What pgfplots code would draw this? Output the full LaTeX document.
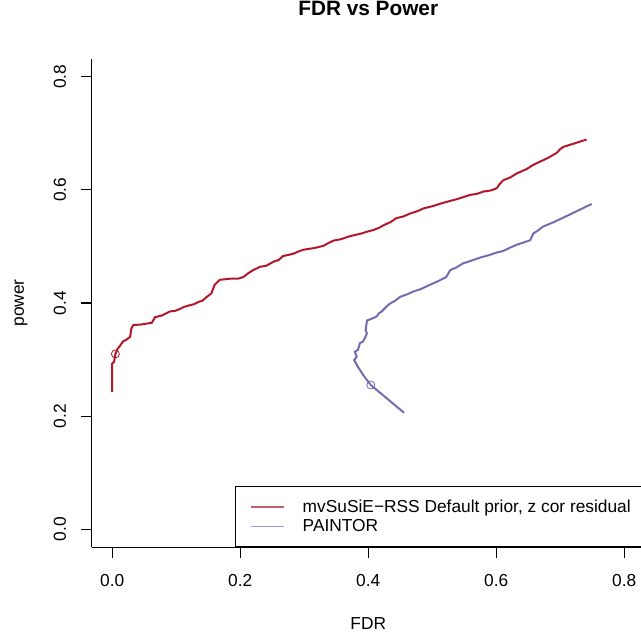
\documentclass[border=0pt]{standalone}
\usepackage{fontspec}
\setmainfont{Liberation Sans}
\usepackage{pgfplots}
\pgfplotsset{compat=1.18}
\definecolor{cred}{HTML}{B2182B}
\definecolor{cpur}{HTML}{756BB1}
\begin{document}
\begin{tikzpicture}
\begin{axis}[
  scale only axis, width=414.8pt, height=366.6pt,
  xmin=-0.032, xmax=0.832, ymin=-0.032, ymax=0.832,
  axis x line=bottom, axis y line=left,
  axis line style={-, line width=0.8pt, black},
  xtick={0,0.2,0.4,0.6,0.8}, ytick={0,0.2,0.4,0.6,0.8},
  xticklabels={0.0,0.2,0.4,0.6,0.8}, yticklabels={0.0,0.2,0.4,0.6,0.8},
  tick align=outside, major tick length=7.95pt,
  tick style={line width=0.8pt, black},
  ticklabel style={font=\fontsize{13}{15}\selectfont},
  xticklabel style={anchor=north, inner sep=0pt, yshift=-12pt},
  yticklabel style={rotate=90, anchor=south, inner sep=0pt, yshift=11pt},
  title={FDR vs Power},
  title style={at={(0.5,1)}, anchor=base, yshift=26.5pt, font=\bfseries\fontsize{15.6}{18}\selectfont},
  xlabel={FDR},
  xlabel style={at={(0.5,0)}, anchor=base, yshift=-61.95pt, font=\fontsize{13}{15}\selectfont},
  ylabel={power},
  ylabel style={at={(0,0.5)}, anchor=base, yshift=50.8pt, font=\fontsize{13}{15}\selectfont},
  legend style={at={(0.2592,0)}, anchor=south west, draw=black, line width=0.75pt,
    inner xsep=11.25pt, inner ysep=7.9pt, row sep=0pt,
    font=\fontsize{13}{15}\selectfont},
  legend cell align=left,
  legend image code/.code={\draw[#1, line width=0.8pt, opacity=0.7] (0pt,0pt) -- (24.75pt,0pt); \path (36pt,0pt);},
]
\coordinate (O) at (rel axis cs:0,0);
\addplot[cred, line width=1.5pt] coordinates {
(0.000,0.243)(0.000,0.293)(0.003,0.296)(0.005,0.310)(0.009,0.320)(0.012,0.324)(0.017,0.332)(0.022,0.335)(0.028,0.340)(0.030,0.355)(0.033,0.361)(0.045,0.362)(0.062,0.365)(0.067,0.375)(0.078,0.378)(0.083,0.381)(0.090,0.385)(0.098,0.386)(0.105,0.389)(0.112,0.393)(0.121,0.396)(0.128,0.398)(0.135,0.402)(0.141,0.404)(0.148,0.411)(0.155,0.417)(0.160,0.432)(0.168,0.441)(0.185,0.443)(0.197,0.443)(0.205,0.446)(0.213,0.453)(0.220,0.458)(0.231,0.464)(0.241,0.466)(0.252,0.473)(0.260,0.476)(0.267,0.483)(0.283,0.487)(0.291,0.491)(0.298,0.494)(0.315,0.497)(0.330,0.501)(0.338,0.506)(0.345,0.510)(0.358,0.513)(0.371,0.518)(0.390,0.523)(0.398,0.526)(0.408,0.529)(0.417,0.533)(0.425,0.538)(0.435,0.543)(0.444,0.550)(0.455,0.553)(0.465,0.558)(0.476,0.562)(0.486,0.567)(0.500,0.571)(0.517,0.577)(0.530,0.581)(0.540,0.584)(0.559,0.591)(0.570,0.593)(0.580,0.597)(0.592,0.599)(0.601,0.603)(0.605,0.610)(0.611,0.617)(0.622,0.622)(0.632,0.629)(0.648,0.637)(0.656,0.643)(0.663,0.647)(0.680,0.656)(0.694,0.665)(0.700,0.672)(0.705,0.676)(0.722,0.682)(0.741,0.689)
};
\addlegendentry{mvSuSiE−RSS Default prior, z cor residual}
\addplot[cpur, line width=1.5pt] coordinates {
(0.456,0.206)(0.404,0.255)(0.392,0.273)(0.384,0.287)(0.378,0.299)(0.382,0.305)(0.379,0.314)(0.384,0.317)(0.387,0.329)(0.392,0.332)(0.398,0.346)(0.396,0.352)(0.398,0.369)(0.405,0.372)(0.413,0.376)(0.417,0.382)(0.421,0.385)(0.428,0.393)(0.434,0.399)(0.442,0.404)(0.450,0.411)(0.460,0.415)(0.470,0.420)(0.483,0.425)(0.496,0.432)(0.510,0.439)(0.522,0.446)(0.528,0.458)(0.538,0.463)(0.548,0.470)(0.564,0.476)(0.577,0.481)(0.590,0.485)(0.600,0.489)(0.611,0.492)(0.622,0.498)(0.632,0.503)(0.643,0.507)(0.653,0.511)(0.658,0.523)(0.665,0.528)(0.673,0.535)(0.690,0.543)(0.705,0.551)(0.727,0.563)(0.749,0.575)
};
\addlegendentry{PAINTOR}
\addplot[cred, only marks, mark=o, mark size=3pt, mark options={line width=0.6pt}, forget plot] coordinates {(0.005,0.310)};
\addplot[cpur, only marks, mark=o, mark size=3pt, mark options={line width=0.6pt}, forget plot] coordinates {(0.404,0.255)};
\end{axis}
\pgfresetboundingbox
\path[use as bounding box] ([xshift=-68.775pt,yshift=-65.7pt]O) rectangle ([xshift=411.98pt,yshift=410.55pt]O);
\end{tikzpicture}
\end{document}
